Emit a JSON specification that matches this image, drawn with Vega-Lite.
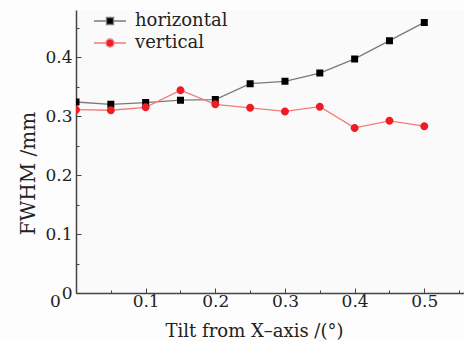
{
  "$schema": "https://vega.github.io/schema/vega-lite/v6.json",
  "width": 388,
  "height": 283,
  "autosize": "none",
  "padding": {"left": 76, "top": 10, "right": 0, "bottom": 49},
  "background": "#fdfdfd",
  "config": {
    "view": {"fill": "#fafafa", "stroke": null},
    "font": "DejaVu Serif",
    "axis": {
      "labelFont": "DejaVu Serif",
      "labelFontSize": 17,
      "labelColor": "#222",
      "titleFont": "DejaVu Serif",
      "titleFontWeight": "normal",
      "titleColor": "#222",
      "domainColor": "#444",
      "domainWidth": 1.5,
      "tickColor": "#444",
      "tickWidth": 1,
      "grid": false,
      "labelOverlap": false,
      "labelFlush": false
    }
  },
  "data": {
    "values": [
      {"tilt": 0.00, "fwhm": 0.324, "series": "horizontal"},
      {"tilt": 0.05, "fwhm": 0.320, "series": "horizontal"},
      {"tilt": 0.10, "fwhm": 0.323, "series": "horizontal"},
      {"tilt": 0.15, "fwhm": 0.327, "series": "horizontal"},
      {"tilt": 0.20, "fwhm": 0.328, "series": "horizontal"},
      {"tilt": 0.25, "fwhm": 0.355, "series": "horizontal"},
      {"tilt": 0.30, "fwhm": 0.359, "series": "horizontal"},
      {"tilt": 0.35, "fwhm": 0.373, "series": "horizontal"},
      {"tilt": 0.40, "fwhm": 0.397, "series": "horizontal"},
      {"tilt": 0.45, "fwhm": 0.428, "series": "horizontal"},
      {"tilt": 0.50, "fwhm": 0.459, "series": "horizontal"},
      {"tilt": 0.00, "fwhm": 0.311, "series": "vertical"},
      {"tilt": 0.05, "fwhm": 0.310, "series": "vertical"},
      {"tilt": 0.10, "fwhm": 0.315, "series": "vertical"},
      {"tilt": 0.15, "fwhm": 0.344, "series": "vertical"},
      {"tilt": 0.20, "fwhm": 0.320, "series": "vertical"},
      {"tilt": 0.25, "fwhm": 0.314, "series": "vertical"},
      {"tilt": 0.30, "fwhm": 0.308, "series": "vertical"},
      {"tilt": 0.35, "fwhm": 0.316, "series": "vertical"},
      {"tilt": 0.40, "fwhm": 0.280, "series": "vertical"},
      {"tilt": 0.45, "fwhm": 0.292, "series": "vertical"},
      {"tilt": 0.50, "fwhm": 0.283, "series": "vertical"}
    ]
  },
  "resolve": {"axis": {"x": "independent", "y": "independent"}},
  "layer": [
    {
      "mark": {"type": "line", "strokeWidth": 1.3, "clip": true},
      "encoding": {
        "x": {
          "field": "tilt",
          "type": "quantitative",
          "scale": {"domain": [0, 0.557], "nice": false, "zero": false},
          "axis": {
            "orient": "bottom",
            "title": null,
            "domain": false,
            "labels": false,
            "values": [0.05, 0.15, 0.25, 0.35, 0.45, 0.55],
            "tickSize": -3
          }
        },
        "y": {
          "field": "fwhm",
          "type": "quantitative",
          "scale": {"domain": [0, 0.48], "nice": false},
          "axis": {
            "orient": "left",
            "title": null,
            "domain": false,
            "labels": false,
            "values": [0.05, 0.15, 0.25, 0.35, 0.45],
            "tickSize": -3
          }
        },
        "detail": {"field": "series", "type": "nominal"},
        "stroke": {
          "condition": {"test": "datum.series === 'horizontal'", "value": "#7a7a7a"},
          "value": "#f47a7a"
        }
      }
    },
    {
      "mark": {"type": "point", "filled": true, "opacity": 1, "size": 400, "strokeWidth": 1.3, "clip": true},
      "encoding": {
        "x": {
          "field": "tilt",
          "type": "quantitative",
          "axis": {
            "orient": "bottom",
            "title": "Tilt from X–axis /(°)",
            "titleFontSize": 18,
            "titleX": 178,
            "titleY": 43,
            "titleBaseline": "alphabetic",
            "values": [0, 0.1, 0.2, 0.3, 0.4, 0.5],
            "labelExpr": "datum.value === 0 ? '0' : format(datum.value, '.1f')",
            "tickSize": -5,
            "labelOffset": {"condition": {"test": "datum.value === 0", "value": -21}, "value": 0},
            "labelPadding": 5
          }
        },
        "y": {
          "field": "fwhm",
          "type": "quantitative",
          "axis": {
            "orient": "left",
            "title": "FWHM /mm",
            "titleFontSize": 20,
            "titleX": -48,
            "titleY": 163,
            "titleBaseline": "middle",
            "titleAlign": "center",
            "titleAngle": -90,
            "values": [0, 0.1, 0.2, 0.3, 0.4],
            "labelExpr": "datum.value === 0 ? '0' : format(datum.value, '.1f')",
            "tickSize": -5,
            "labelPadding": 9
          }
        },
        "strokeWidth": {"value": 0},
        "stroke": {
          "field": "series",
          "type": "nominal",
          "scale": {"domain": ["horizontal", "vertical"], "range": ["#7a7a7a", "#f47a7a"]}
        },
        "fill": {
          "field": "series",
          "type": "nominal",
          "scale": {"domain": ["horizontal", "vertical"], "range": ["#000000", "#ee1c24"]},
          "legend": {
            "title": null,
            "orient": "none",
            "legendX": 23,
            "legendY": 0,
            "padding": 0,
            "rowPadding": 2,
            "symbolSize": 400,
            "symbolStrokeWidth": 1.3,
            "labelFont": "DejaVu Serif",
            "labelFontSize": 18,
            "labelColor": "#222",
            "labelOffset": 14
          }
        },
        "shape": {
          "field": "series",
          "type": "nominal",
          "scale": {
            "domain": ["horizontal", "vertical"],
            "range": [
              "M-1.6,0H-0.35M0.35,0H1.6M-0.35,-0.35H0.35V0.35H-0.35Z",
              "M-1.6,0H-0.4M0.4,0H1.6M0.4,0A0.4,0.4,0,1,1,-0.4,0A0.4,0.4,0,1,1,0.4,0Z"
            ]
          }
        }
      }
    }
  ]
}
